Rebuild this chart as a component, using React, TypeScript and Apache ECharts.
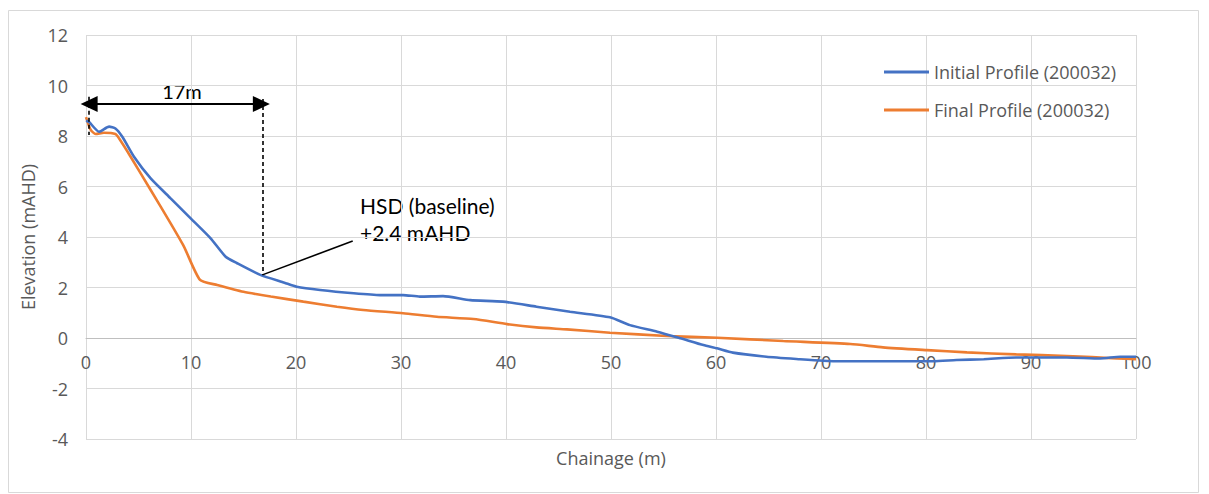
import React, { useEffect, useRef } from "react";
import * as echarts from "echarts";

const seriesNames = ["Initial Profile (200032)", "Final Profile (200032)"];

const initialX = [0, 0.3, 1.24, 2.2, 2.8, 3.46, 4.57, 6.16, 8.06, 9.97, 11.87, 13.3, 14.4, 16.6, 18.9, 20.07, 22.3, 25.5, 28, 30.2, 31.8, 34.0, 36.6, 39.7, 42.9, 46.1, 49.9, 51.8, 54.4, 56.6, 58.8, 60.1, 61.6, 64.8, 68, 70.2, 72, 80.7, 82.9, 85.5, 88.6, 93.4, 96.6, 98.5, 100];
const initialY = [8.6, 8.55, 8.17, 8.37, 8.3, 7.97, 7.18, 6.32, 5.53, 4.74, 3.95, 3.22, 2.96, 2.5, 2.19, 2.03, 1.9, 1.77, 1.7, 1.7, 1.64, 1.66, 1.5, 1.44, 1.24, 1.04, 0.82, 0.51, 0.25, -0.01, -0.28, -0.41, -0.58, -0.74, -0.84, -0.9, -0.92, -0.92, -0.87, -0.84, -0.77, -0.77, -0.81, -0.74, -0.74];

const finalX = [0, 0.45, 0.92, 1.7, 2.8, 3.14, 4.25, 6.16, 8.06, 9.33, 10.86, 12.5, 15.0, 17.6, 20.7, 23.9, 26.4, 30.2, 33.4, 36.9, 40.1, 42.9, 45.8, 49.9, 55.3, 60.1, 66.4, 72.8, 75.9, 80.1, 83.9, 88.6, 93.4, 98.2, 100];
const finalY = [8.75, 8.24, 8.08, 8.13, 8.08, 7.91, 7.18, 5.86, 4.54, 3.62, 2.3, 2.1, 1.83, 1.64, 1.44, 1.24, 1.11, 0.98, 0.84, 0.75, 0.55, 0.42, 0.34, 0.21, 0.08, 0.01, -0.12, -0.24, -0.37, -0.48, -0.57, -0.65, -0.71, -0.81, -0.84];

// annotation (data coordinates)
const widthLabel = "17m";
const hsdLabel = ["HSD (baseline)", "+2.4 mAHD"];
const arrowY = 9.27;
const arrowStart = 0.3;
const arrowEnd = 16.7;
const hsdX = 16.8;
const hsdY = 2.5;
const leaderEnd = [25.4, 3.84];

const xTitle = "Chainage (m)";
const yTitle = "Elevation (mAHD)";

const axisFont = "'Open Sans', 'Noto Sans', sans-serif";
const annFont = "Lato, 'Open Sans', sans-serif";
const grey = "#595959";

export default function App() {
  const ref = useRef<HTMLDivElement>(null);
  useEffect(() => {
    if (!ref.current) return;
    const chart = echarts.init(ref.current, undefined, { renderer: "svg" });
    const blackLine = { color: "#000", width: 2, type: "solid" as const };
    const dashed = { color: "#000", width: 1.6, type: [4, 3] as any };
    chart.setOption({
      animation: false,
      backgroundColor: "#fff",
      grid: { left: 86, right: 73, top: 35, bottom: 55, containLabel: false },
      legend: {
        orient: "vertical",
        left: 884,
        top: 63,
        padding: 0,
        itemWidth: 45,
        itemHeight: 3,
        itemGap: 20,
        icon: "rect",
        textStyle: { color: grey, fontFamily: axisFont, fontSize: 18, padding: [0, 0, 0, 0] },
        data: seriesNames,
      },
      xAxis: {
        type: "value",
        min: 0,
        max: 100,
        interval: 10,
        offset: -101,
        axisLine: { onZero: false, lineStyle: { color: "#bfbfbf", width: 1 } },
        axisTick: { show: false },
        axisLabel: { color: grey, fontFamily: axisFont, fontSize: 18, margin: 15 },
        splitLine: { show: true, lineStyle: { color: "#d9d9d9", width: 1 } },
      },
      yAxis: {
        type: "value",
        min: -4,
        max: 12,
        interval: 2,
        axisLine: { show: false },
        axisTick: { show: false },
        axisLabel: { color: grey, fontFamily: axisFont, fontSize: 18, margin: 18 },
        splitLine: { show: true, lineStyle: { color: "#d9d9d9", width: 1 } },
        name: yTitle,
        nameLocation: "middle",
        nameGap: 47,
        nameTextStyle: { color: grey, fontFamily: axisFont, fontSize: 18 },
      },
      series: [
        {
          name: seriesNames[0],
          type: "line",
          showSymbol: false,
          symbol: "none",
          smooth: 0.2,
          color: "#4472C4",
          lineStyle: { width: 2.6, color: "#4472C4" },
          data: initialX.map((x, i) => [x, initialY[i]]),
          z: 3,
          markLine: {
            silent: true,
            animation: false,
            label: { show: false },
            symbol: ["none", "none"],
            data: [
              [
                { coord: [arrowStart, arrowY], symbol: "triangle", symbolSize: [16, 17], lineStyle: blackLine },
                { coord: [arrowEnd, arrowY], symbol: "triangle", symbolSize: [16, 17] },
              ],
              [
                { coord: [arrowStart, 9.55], symbol: "none", lineStyle: dashed },
                { coord: [arrowStart, 8.04], symbol: "none" },
              ],
              [
                { coord: [hsdX, 9.47], symbol: "none", lineStyle: dashed },
                { coord: [hsdX, hsdY], symbol: "none" },
              ],
              [
                { coord: [hsdX, hsdY], symbol: "none", lineStyle: { color: "#000", width: 1.6, type: "solid" } },
                { coord: leaderEnd, symbol: "none" },
              ],
            ],
          },
        },
        {
          name: seriesNames[1],
          type: "line",
          showSymbol: false,
          symbol: "none",
          smooth: 0.2,
          color: "#ED7D31",
          lineStyle: { width: 2.6, color: "#ED7D31" },
          data: finalX.map((x, i) => [x, finalY[i]]),
          z: 2,
        },
      ],
      graphic: [
        {
          type: "rect",
          shape: { x: 8.5, y: 10.5, width: 1190, height: 482 },
          style: { fill: "none", stroke: "#d9d9d9", lineWidth: 1 },
          silent: true,
          z: -10,
        },
        {
          type: "text",
          x: 182,
          y: 91,
          style: { text: widthLabel, fill: "#000", font: `20px ${annFont}`, textAlign: "center", textVerticalAlign: "middle" },
        },
        {
          type: "text",
          left: 360,
          top: 192,
          style: { text: hsdLabel.join("\n"), fill: "#000", font: `21px ${annFont}`, lineHeight: 27 },
        },
        {
          type: "text",
          x: 611,
          y: 458,
          style: { text: xTitle, fill: grey, font: `18px ${axisFont}`, textAlign: "center", textVerticalAlign: "middle" },
        },
      ],
    });
    return () => chart.dispose();
  }, []);
  return (
    <div
      ref={ref}
      style={{ position: "absolute", left: 0, top: 0, width: 1209, height: 494 }}
    />
  );
}
